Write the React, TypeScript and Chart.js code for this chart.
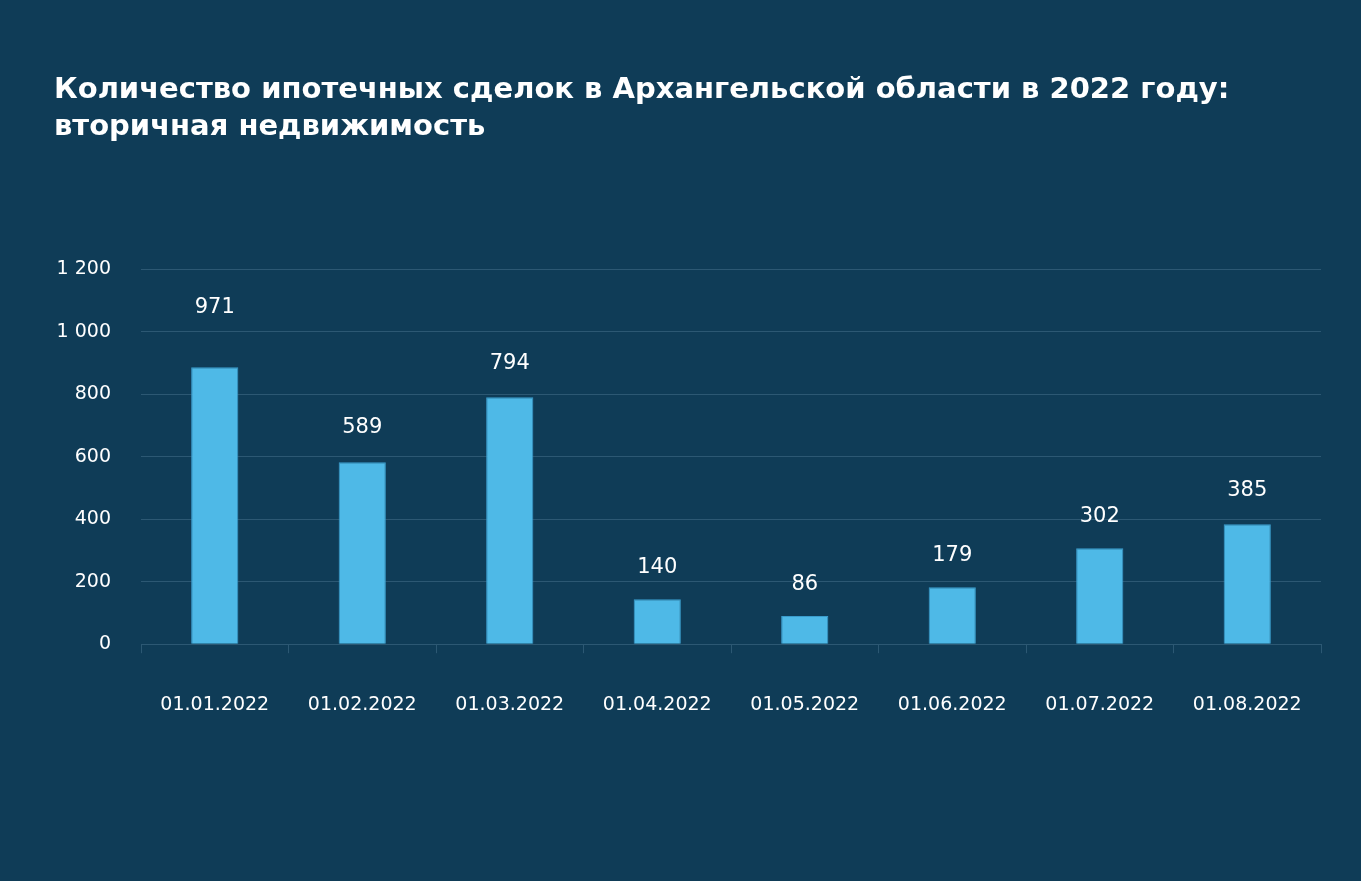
import React, { useEffect, useRef } from "react";
import { Chart, registerables } from "chart.js";

Chart.register(...registerables);

const titleLines = [
  "Количество ипотечных сделок в Архангельской области в 2022 году:",
  "вторичная недвижимость",
];
const categories = [
  "01.01.2022",
  "01.02.2022",
  "01.03.2022",
  "01.04.2022",
  "01.05.2022",
  "01.06.2022",
  "01.07.2022",
  "01.08.2022",
];
// bar heights as drawn in the picture
const barValues = [886, 582, 790, 144, 90, 182, 307, 384];
// value labels printed above the bars
const labelValues = [971, 589, 794, 140, 86, 179, 302, 385];
const yTicks = [0, 200, 400, 600, 800, 1000, 1200];

const BG = "#0f3c57";
const BAR = "#4eb9e7";
const GRID = "#2c5873";
const FONT = "'DejaVu Sans', sans-serif";

function fmt(v: number): string {
  if (v >= 1000) return `${Math.floor(v / 1000)} ${String(v % 1000).padStart(3, "0")}`;
  return String(v);
}

const valueLabelPlugin = {
  id: "valueLabels",
  afterDatasetsDraw(chart: any) {
    const ctx = chart.ctx;
    const meta = chart.getDatasetMeta(0);
    const yScale = chart.scales.y;
    ctx.save();
    ctx.fillStyle = "#ffffff";
    ctx.font = `normal 21px ${FONT}`;
    ctx.textAlign = "center";
    ctx.textBaseline = "middle";
    meta.data.forEach((bar: any, i: number) => {
      const y = yScale.getPixelForValue(labelValues[i]) - 33;
      ctx.fillText(String(labelValues[i]), bar.x, y);
    });
    ctx.restore();
  },
};

export default function App() {
  const ref = useRef<HTMLCanvasElement | null>(null);
  useEffect(() => {
    document.body.style.margin = "0";
    document.body.style.background = BG;
    const canvas = ref.current!;
    const chart = new Chart(canvas, {
      type: "bar",
      data: {
        labels: categories,
        datasets: [
          {
            data: barValues,
            backgroundColor: BAR,
            borderColor: "#3a9ccc",
            borderWidth: 1,
            barPercentage: 0.32,
            categoryPercentage: 1,
          },
        ],
      },
      options: {
        responsive: false,
        animation: false,
        layout: { padding: { left: 54, right: 40, top: 0, bottom: 125 } },
        plugins: {
          legend: { display: false },
          tooltip: { enabled: false },
          title: {
            display: true,
            text: titleLines,
            align: "start",
            color: "#ffffff",
            font: { family: FONT, size: 29, weight: "bold", lineHeight: 1.28 },
            padding: { top: 72, bottom: 123 },
          },
        },
        scales: {
          x: {
            offset: true,
            grid: {
              display: true,
              drawOnChartArea: false,
              drawTicks: true,
              tickLength: 9,
              color: GRID,
              offset: true,
            },
            border: { display: true, color: GRID },
            ticks: {
              color: "#ffffff",
              font: { family: FONT, size: 19, weight: "normal" },
              padding: 40,
              maxRotation: 0,
              autoSkip: false,
            },
          },
          y: {
            min: 0,
            max: 1200,
            afterBuildTicks(scale: any) {
              scale.ticks = yTicks.map((v) => ({ value: v }));
            },
            afterFit(scale: any) {
              scale.width = 87;
            },
            grid: { color: GRID, drawTicks: false, lineWidth: 1 },
            border: { display: false },
            ticks: {
              color: "#ffffff",
              font: { family: FONT, size: 19, weight: "normal" },
              padding: 30,
              callback: (v: any) => fmt(Number(v)),
            },
          },
        },
      },
      plugins: [valueLabelPlugin],
    });
    return () => chart.destroy();
  }, []);
  return (
    <div style={{ position: "absolute", left: 0, top: 0, width: 1361, height: 881, background: BG }}>
      <canvas ref={ref} width={1361} height={881} style={{ display: "block" }} />
    </div>
  );
}
